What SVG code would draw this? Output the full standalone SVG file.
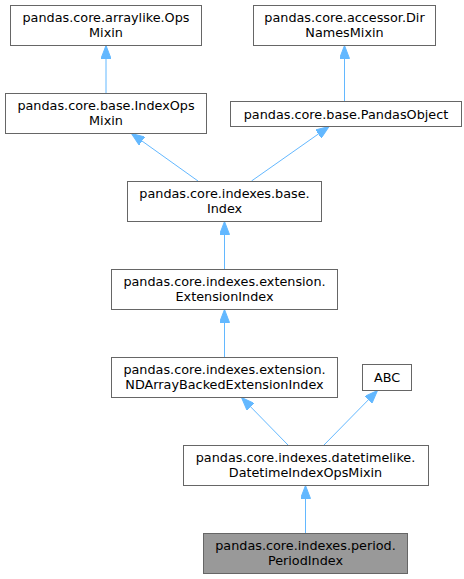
<svg xmlns="http://www.w3.org/2000/svg" width="464" height="579" viewBox="0 0 464 579">
<style>
.n rect{fill:#ffffff;stroke:#666666;stroke-width:1}
.n.cur rect{fill:#999999}
.n text{font-family:"DejaVu Sans","Liberation Sans",sans-serif;font-size:12.8px;fill:#000000;text-anchor:middle}
.e line{stroke:#63b8ff;stroke-width:1;fill:none;marker-end:url(#ah)}
</style>
<defs>
<marker id="ah" viewBox="0 0 13 10" refX="13" refY="5" markerWidth="13" markerHeight="10" markerUnits="userSpaceOnUse" orient="auto">
<path d="M0,0 L13,5 L0,10 z" fill="#63b8ff" stroke="#63b8ff" stroke-width="1"/>
</marker>
</defs>
<rect width="464" height="579" fill="#ffffff"/>
<g id="edges" class="e">
<line x1="106" y1="93" x2="106" y2="45.5"/>
<line x1="344.5" y1="101" x2="344.5" y2="45.5"/>
<line x1="198" y1="181" x2="131.5" y2="133.5"/>
<line x1="251.5" y1="181" x2="329" y2="126.5"/>
<line x1="224.5" y1="269" x2="224.5" y2="221.5"/>
<line x1="224.5" y1="357" x2="224.5" y2="309.5"/>
<line x1="288" y1="445" x2="241.5" y2="397.5"/>
<line x1="324" y1="445" x2="377.5" y2="390.5"/>
<line x1="305.5" y1="533" x2="305.5" y2="485.5"/>
</g>
<g id="n_arraylike_opsmixin" class="n">
<rect x="10.5" y="5.5" width="191" height="40"/>
<text x="106" y="22">pandas.core.arraylike.Ops</text>
<text x="106" y="37">Mixin</text>
</g>
<g id="n_indexopsmixin" class="n">
<rect x="5.5" y="93.5" width="201" height="40"/>
<text x="106" y="110">pandas.core.base.IndexOps</text>
<text x="106" y="125">Mixin</text>
</g>
<g id="n_dirnamesmixin" class="n">
<rect x="253.5" y="5.5" width="182" height="40"/>
<text x="344.5" y="22">pandas.core.accessor.Dir</text>
<text x="344.5" y="37">NamesMixin</text>
</g>
<g id="n_pandasobject" class="n">
<rect x="230.5" y="101.5" width="231" height="25"/>
<text x="346" y="118.5">pandas.core.base.PandasObject</text>
</g>
<g id="n_index" class="n">
<rect x="127.5" y="181.5" width="194" height="40"/>
<text x="224.5" y="198">pandas.core.indexes.base.</text>
<text x="224.5" y="213">Index</text>
</g>
<g id="n_extensionindex" class="n">
<rect x="111.5" y="269.5" width="226" height="40"/>
<text x="224.5" y="286">pandas.core.indexes.extension.</text>
<text x="224.5" y="301">ExtensionIndex</text>
</g>
<g id="n_ndarraybacked" class="n">
<rect x="111.5" y="357.5" width="226" height="40"/>
<text x="224.5" y="374">pandas.core.indexes.extension.</text>
<text x="224.5" y="389">NDArrayBackedExtensionIndex</text>
</g>
<g id="n_abc" class="n">
<rect x="362.5" y="364.5" width="49" height="26"/>
<text x="387" y="382">ABC</text>
</g>
<g id="n_datetimeindexopsmixin" class="n">
<rect x="183.5" y="445.5" width="245" height="40"/>
<text x="305.5" y="462">pandas.core.indexes.datetimelike.</text>
<text x="305.5" y="477">DatetimeIndexOpsMixin</text>
</g>
<g id="n_periodindex" class="n cur">
<rect x="203.5" y="533.5" width="204" height="40"/>
<text x="305.5" y="550">pandas.core.indexes.period.</text>
<text x="305.5" y="565">PeriodIndex</text>
</g>
</svg>
